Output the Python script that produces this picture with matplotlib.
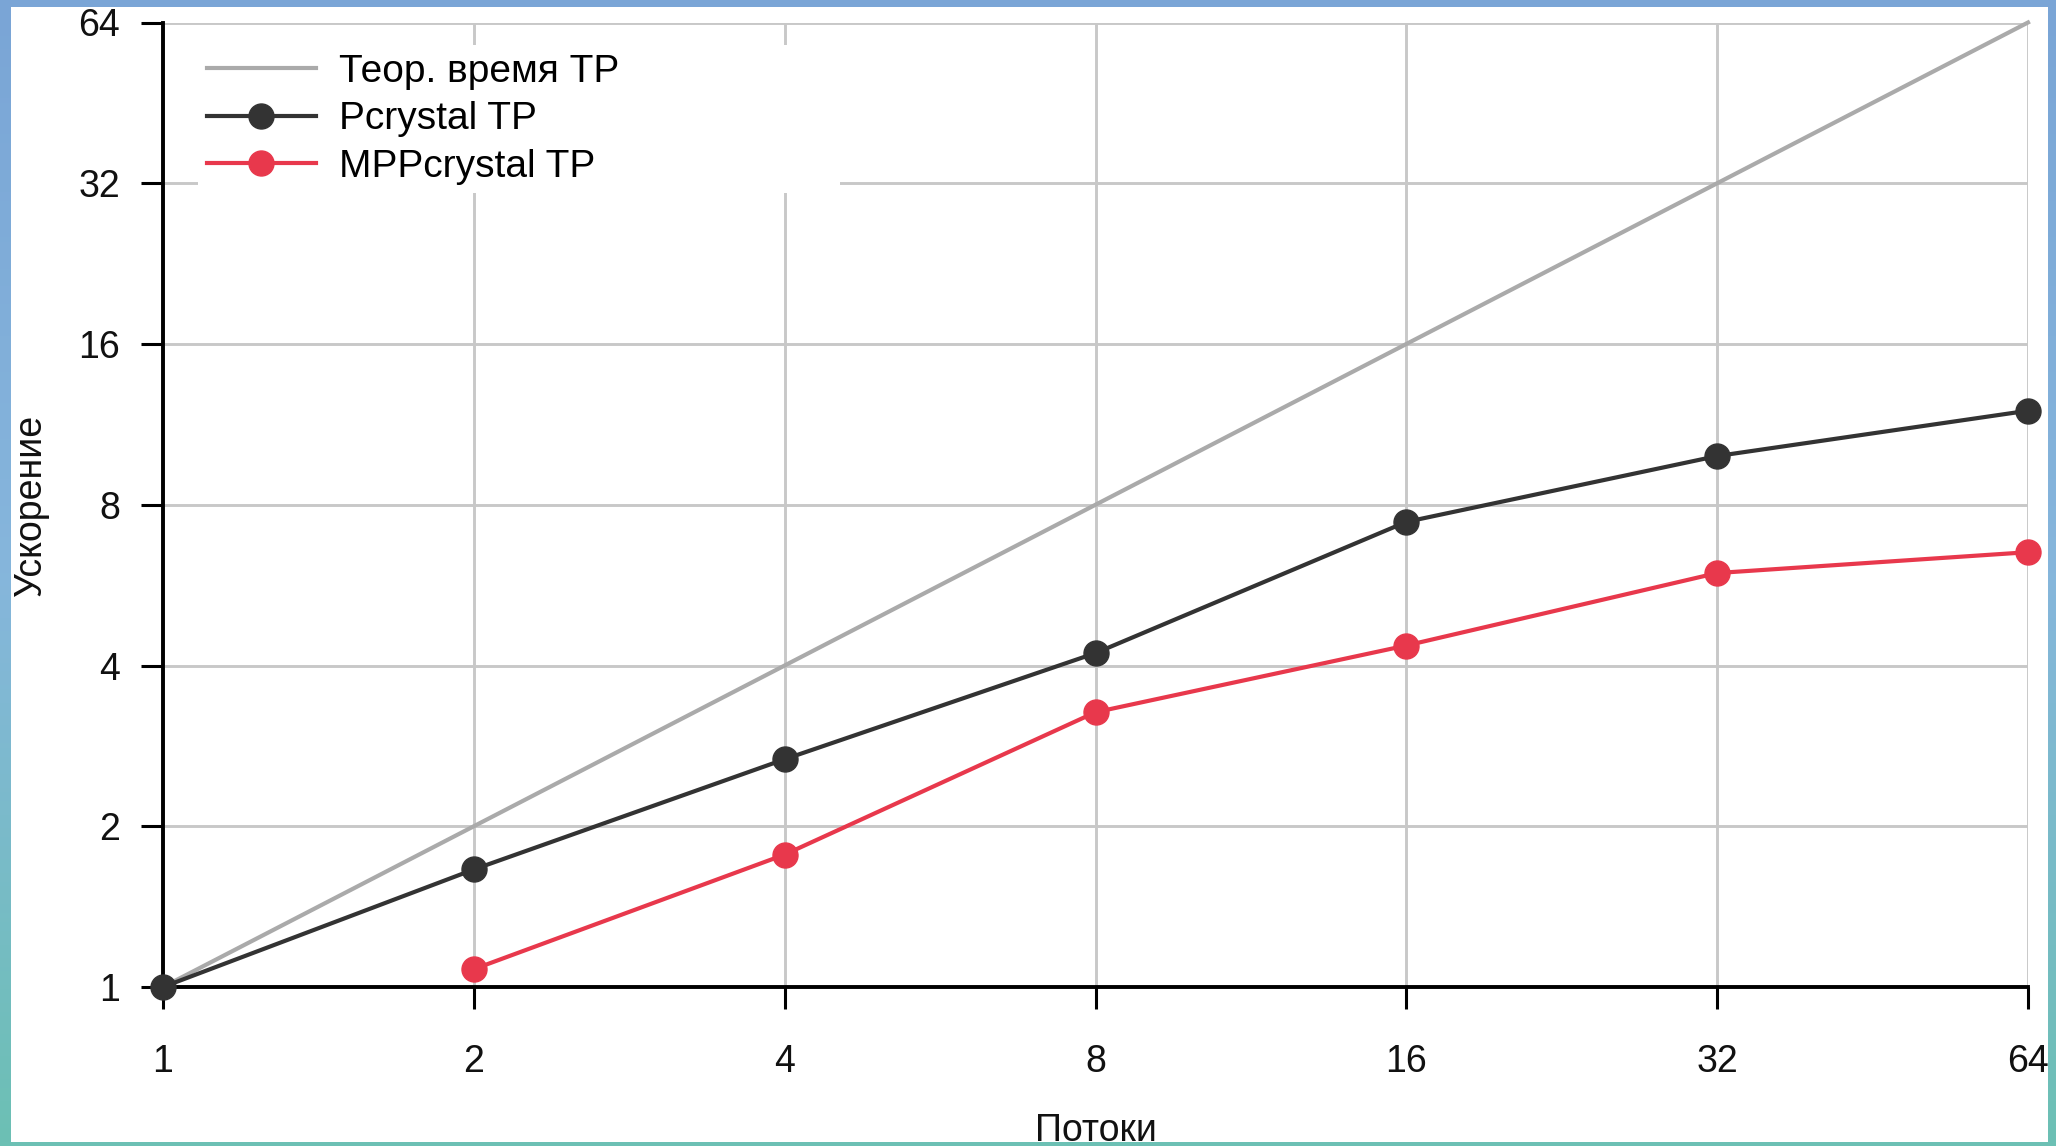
import numpy as np
import matplotlib
matplotlib.use("Agg")
import matplotlib.pyplot as plt
from matplotlib.colors import LinearSegmentedColormap
from matplotlib.patches import Rectangle
from matplotlib.ticker import FixedLocator, NullLocator

plt.rcParams['font.family'] = ['Liberation Sans', 'DejaVu Sans']

# данные
threads = [1, 2, 4, 8, 16, 32, 64]
theory = [1, 2, 4, 8, 16, 32, 64]
pcrystal = [1.0, 1.66, 2.67, 4.22, 7.43, 9.87, 12.0]
mpp_threads = [2, 4, 8, 16, 32, 64]
mppcrystal = [1.08, 1.77, 3.27, 4.36, 5.96, 6.52]
tick_labels = ['1', '2', '4', '8', '16', '32', '64']

W, H = 2056, 1146
fig = plt.figure(figsize=(W / 100, H / 100), dpi=100)

# фон (рамка картинки)
bg = fig.add_axes([0, 0, 1, 1], zorder=-10)
cmap = LinearSegmentedColormap.from_list('bg', ['#7aa5d6', '#86b6dc', '#6cc0b4'])
bg.imshow(np.linspace(0, 1, 256).reshape(-1, 1), cmap=cmap, aspect='auto',
          extent=(0, 1, 0, 1))
bg.set_axis_off()
fig.patches.append(Rectangle((11 / W, 4 / H), (2048 - 11) / W, (1139 - 4) / H,
                             transform=fig.transFigure, facecolor='white',
                             edgecolor='none', zorder=-5))
fig.patches.append(Rectangle((0, 0), 1, 4 / H, transform=fig.transFigure,
                             facecolor='#6cc0b4', edgecolor='none', zorder=10))

ax = fig.add_axes([163 / W, 1 - 987 / H, (2028 - 163) / W, (987 - 22.5) / H])
ax.set_facecolor('white')
ax.set_xscale('log', base=2)
ax.set_yscale('log', base=2)
ax.set_xlim(1, 64)
ax.set_ylim(1, 64)

ax.xaxis.set_major_locator(FixedLocator(threads))
ax.yaxis.set_major_locator(FixedLocator(threads))
ax.xaxis.set_minor_locator(NullLocator())
ax.yaxis.set_minor_locator(NullLocator())
ax.set_xticklabels(tick_labels)
ax.set_yticklabels(tick_labels)

ax.grid(True, color='#c8c8c8', linewidth=2.1)
ax.set_axisbelow(True)
for s in ['top', 'right']:
    ax.spines[s].set_visible(False)
for s in ['left', 'bottom']:
    ax.spines[s].set_linewidth(2.8)
    ax.spines[s].set_color('black')
ax.tick_params(axis='both', direction='out', length=16, width=2.2, color='black',
               labelsize=27, labelcolor='#111111')
ax.tick_params(axis='x', pad=25)
ax.tick_params(axis='y', pad=15)

ax.plot(threads, theory, color='#aaaaaa', linewidth=3.0, label='Теор. время ТР',
        clip_on=False, zorder=3)
ax.plot(threads, pcrystal, color='#333333', linewidth=3.0, marker='o',
        markersize=18, label='Pcrystal TP', clip_on=False, zorder=4)
ax.plot(mpp_threads, mppcrystal, color='#e8384c', linewidth=3.0, marker='o',
        markersize=18, label='MPPcrystal TP', clip_on=False, zorder=4)

ax.set_ylabel('Ускорение', fontsize=27, color='#111111')
ax.yaxis.set_label_coords(-0.061, 0.5)
ax.set_xlabel('Потоки', fontsize=27, color='#111111', va='top')
ax.xaxis.set_label_coords(0.5, -0.131)

leg = ax.legend(loc='upper left', bbox_to_anchor=(0.0188, 0.5, 0.344, 0.4767),
                mode='expand', borderaxespad=0, borderpad=0.22, fontsize=28,
                handlelength=2.8, handletextpad=0.6, labelspacing=0.3,
                fancybox=False, framealpha=1, facecolor='white', edgecolor='none')
leg.set_zorder(6)

fig.savefig('out.png', dpi=100)
